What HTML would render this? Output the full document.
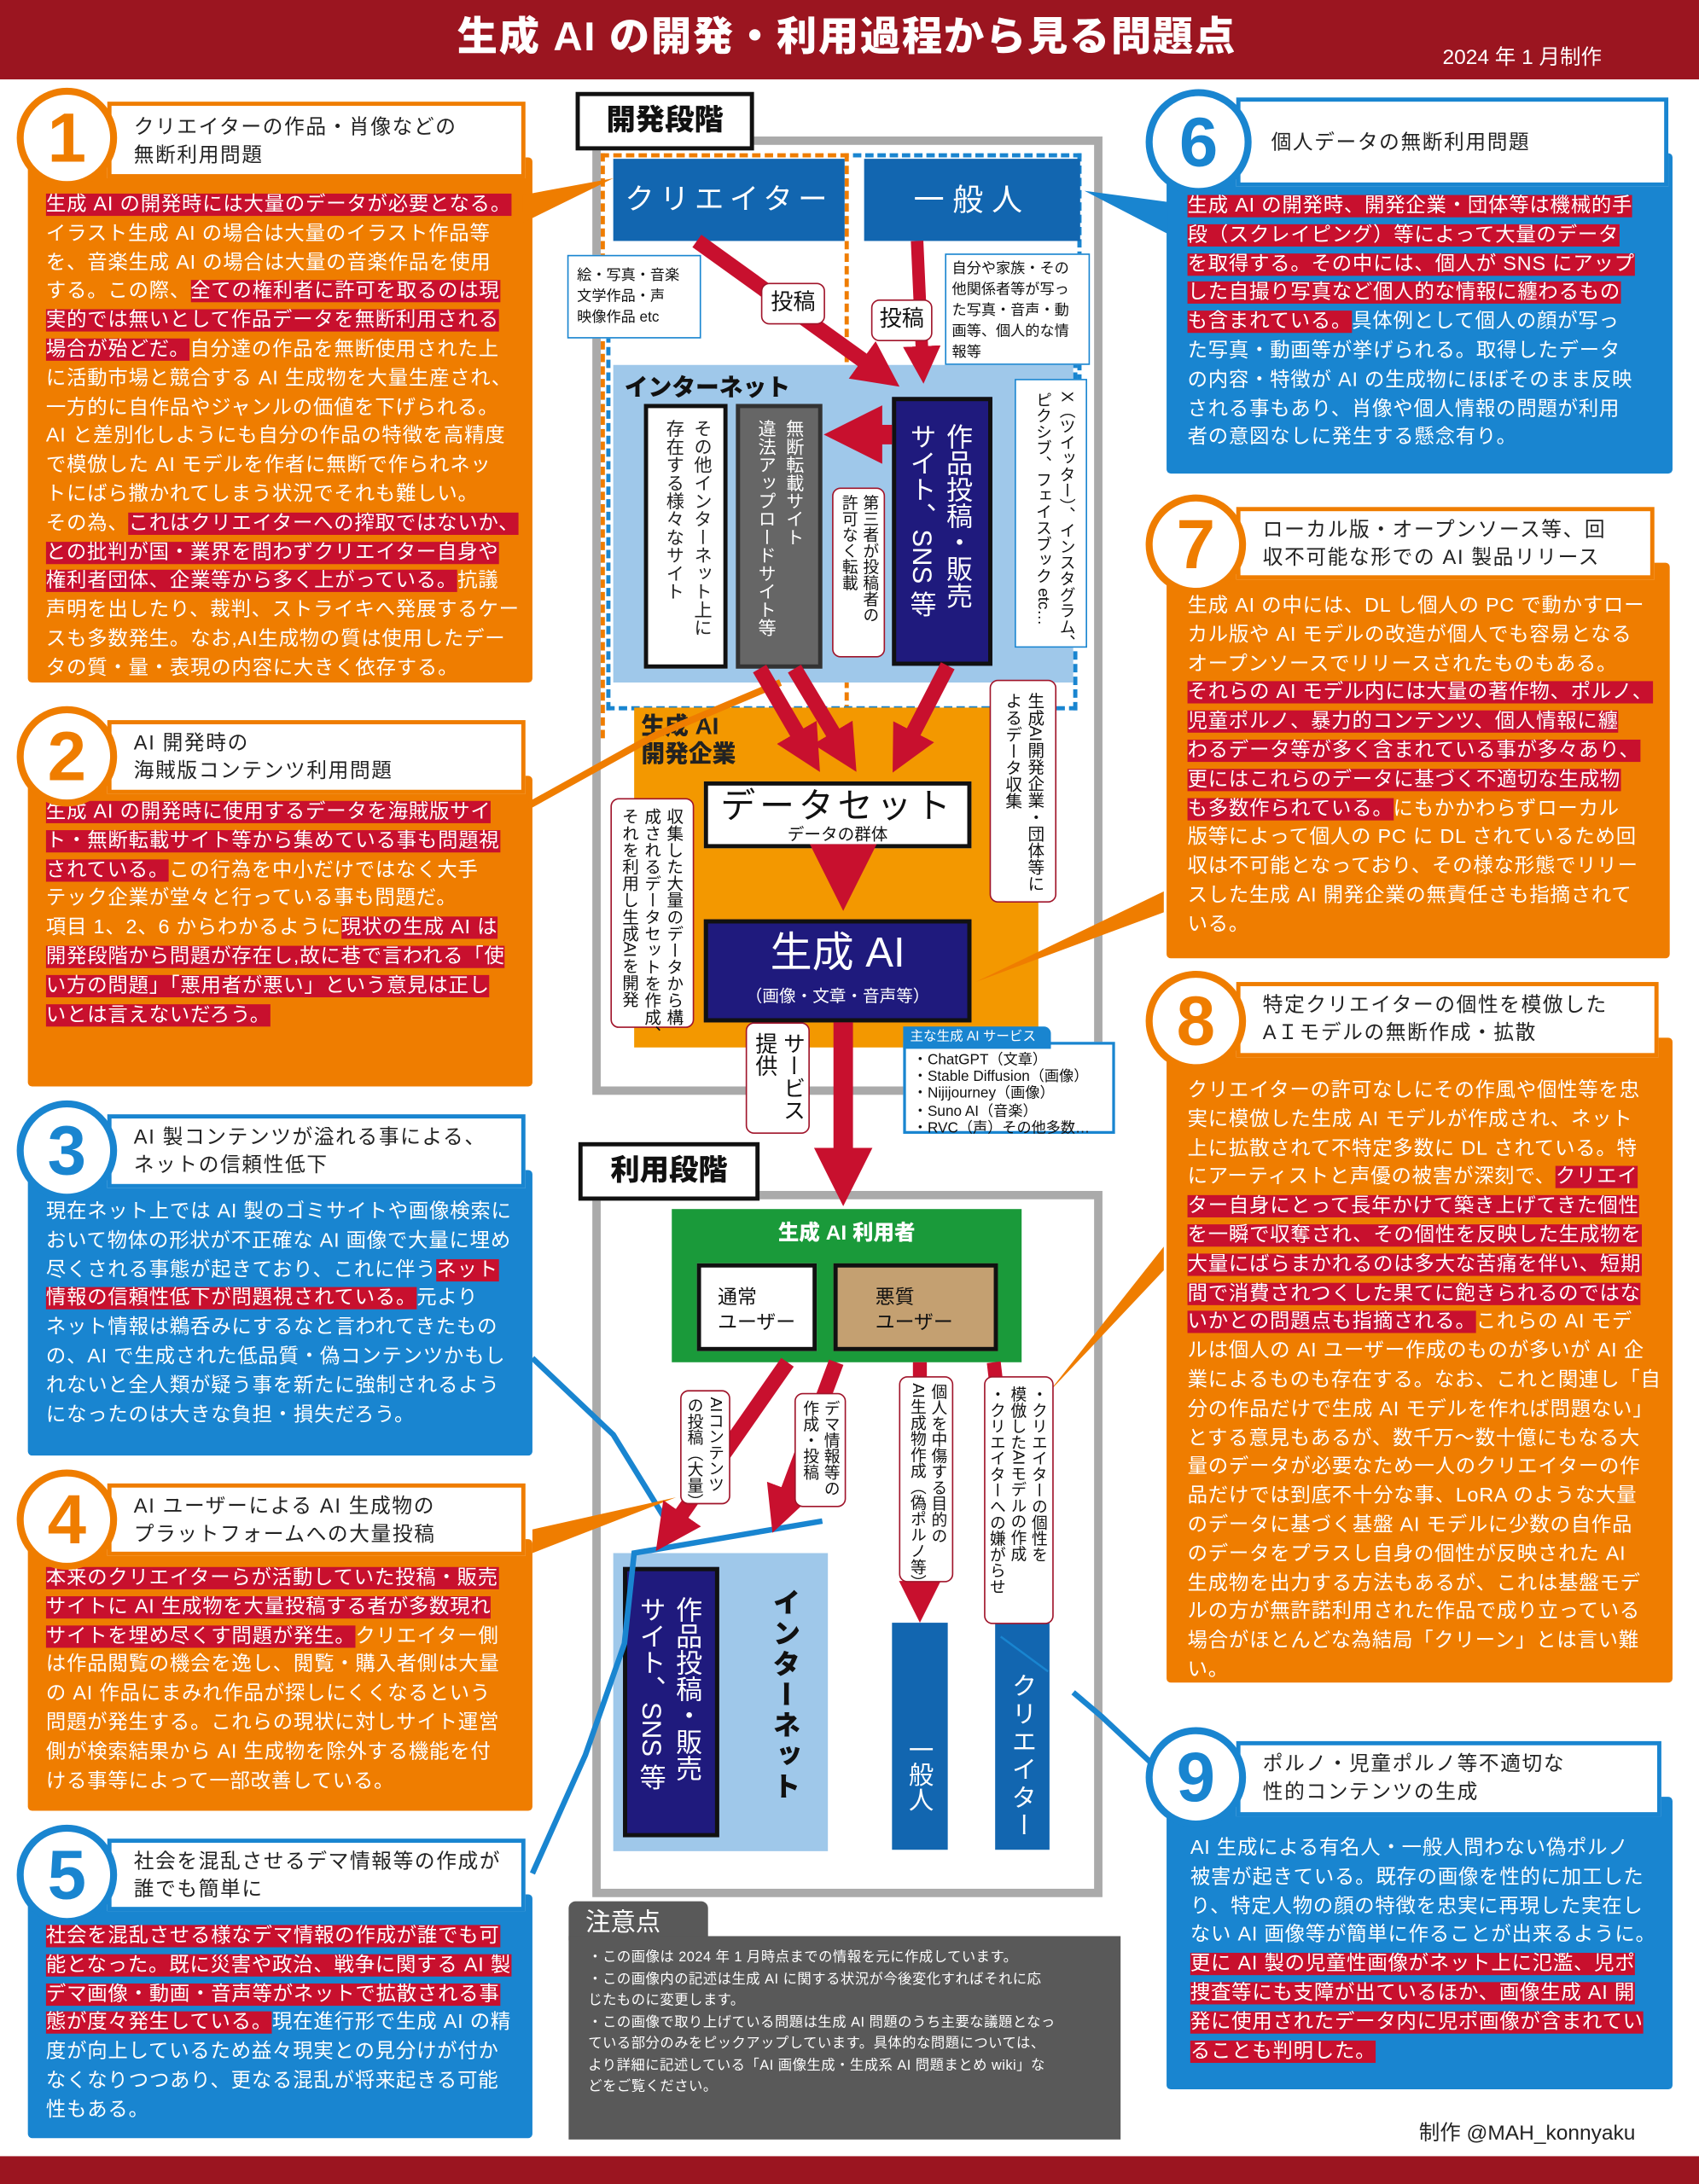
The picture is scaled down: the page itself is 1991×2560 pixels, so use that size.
<!DOCTYPE html>
<html><head><meta charset="utf-8">
<style>
html,body{margin:0;padding:0;width:1991px;height:2560px;overflow:hidden;background:#fff}
#w{position:absolute;left:0;top:0;width:1219px;height:1568px;transform:scale(1.6333,1.6327);transform-origin:0 0;font-family:"Liberation Sans","Noto Sans CJK JP",sans-serif}
.a{position:absolute;box-sizing:border-box}
.circ{position:absolute;width:72px;height:72px;border-radius:50%;background:#fff;box-sizing:border-box;border:5px solid;font:900 50px/62px "Liberation Sans",sans-serif;text-align:center;z-index:3}
.ttl{position:absolute;background:#fff;box-sizing:border-box;border:3px solid;font-size:14.5px;letter-spacing:1px;line-height:20px;padding:4px 0 0 16px;white-space:nowrap;z-index:2}
.ttl.oc,.ttl.bc{color:#222}
.bd{position:absolute;box-sizing:border-box;color:#fff;font-size:14.3px;letter-spacing:0.5px;line-height:20.8px;white-space:nowrap;padding:12px 0 0 13px;border-radius:3px}
.o{background:#ef7d00}.b{background:#1985d0}
.oc{border-color:#ef7d00;color:#ef7d00}.bc{border-color:#1985d0;color:#1985d0}
.h{background:#c8102e}
.v{writing-mode:vertical-rl;white-space:nowrap}
.note{position:absolute;background:#fff;border:1.5px solid #a0142a;border-radius:6px;box-sizing:border-box;font-size:11px;line-height:14px;color:#111;padding:4px 3px;z-index:4}
.bx{position:absolute;box-sizing:border-box;color:#fff;text-align:center}
</style></head><body><div id="w">

<!-- header -->
<div class="a" style="left:0;top:0;width:1219px;height:57px;background:#9b1520"></div>
<div class="a" style="left:250px;top:8px;width:715px;text-align:center;color:#fff;font-size:29px;font-weight:900;line-height:38px;letter-spacing:1px">生成 AI の開発・利用過程から見る問題点</div>
<div class="a" style="left:1035px;top:30px;color:#fff;font-size:15px">2024 年 1 月制作</div>
<div class="a" style="left:0;top:1548px;width:1219px;height:20px;background:#9b1520"></div>
<div class="a" style="left:1018px;top:1520px;font-size:15px;color:#222">制作 @MAH_konnyaku</div>

<!-- connectors -->
<svg class="a" style="left:0;top:0;z-index:1" width="1219" height="1568">
<polygon points="375,140 375,160 440,128" fill="#ef7d00"/>
<polygon points="838,145 838,168 778,137" fill="#1985d0"/>
<polyline points="380,578 470,528 560,490" fill="none" stroke="#ef7d00" stroke-width="5"/>
<polygon points="835,640 835,655 700,705" fill="#ef7d00"/>
<polyline points="382,975 440,1030 480,1095" fill="none" stroke="#1985d0" stroke-width="4"/>
<polygon points="382,1098 382,1115 485,1075" fill="#ef7d00"/>
<polyline points="382,1345 420,1260 448,1180 455,1115 590,1092" fill="none" stroke="#1985d0" stroke-width="4"/>
<polygon points="835,895 835,912 752,1000" fill="#ef7d00"/>
<polyline points="836,1275 790,1232 770,1215" fill="none" stroke="#1985d0" stroke-width="4"/>
<line x1="752" y1="1200" x2="718" y2="1175" stroke="#1985d0" stroke-width="1.5"/>
</svg>

<!-- Panel 1 -->
<div class="bd o" style="left:20px;top:113px;width:362px;height:377px;padding-top:24px"><span class="h">生成 AI の開発時には大量のデータが必要となる。</span><br>イラスト生成 AI の場合は大量のイラスト作品等<br>を、音楽生成 AI の場合は大量の音楽作品を使用<br>する。この際、<span class="h">全ての権利者に許可を取るのは現</span><br><span class="h">実的では無いとして作品データを無断利用される</span><br><span class="h">場合が殆どだ。</span>自分達の作品を無断使用された上<br>に活動市場と競合する AI 生成物を大量生産され、<br>一方的に自作品やジャンルの価値を下げられる。<br>AI と差別化しようにも自分の作品の特徴を高精度<br>で模倣した AI モデルを作者に無断で作られネッ<br>トにばら撒かれてしまう状況でそれも難しい。<br>その為、<span class="h">これはクリエイターへの搾取ではないか、</span><br><span class="h">との批判が国・業界を問わずクリエイター自身や</span><br><span class="h">権利者団体、企業等から多く上がっている。</span>抗議<br>声明を出したり、裁判、ストライキへ発展するケー<br>スも多数発生。なお,AI生成物の質は使用したデー<br>タの質・量・表現の内容に大きく依存する。</div>
<div class="ttl oc" style="left:77px;top:73px;width:300px;height:55px;padding-top:6px">クリエイターの作品・肖像などの<br>無断利用問題</div>
<div class="circ oc" style="left:12px;top:63px">1</div>

<!-- Panel 2 -->
<div class="bd o" style="left:20px;top:557px;width:362px;height:223px;padding-top:16px"><span class="h">生成 AI の開発時に使用するデータを海賊版サイ</span><br><span class="h">ト・無断転載サイト等から集めている事も問題視</span><br><span class="h">されている。</span>この行為を中小だけではなく大手<br>テック企業が堂々と行っている事も問題だ。<br>項目 1、2、6 からわかるように<span class="h">現状の生成 AI は</span><br><span class="h">開発段階から問題が存在し,故に巷で言われる「使</span><br><span class="h">い方の問題」「悪用者が悪い」という意見は正し</span><br><span class="h">いとは言えないだろう。</span></div>
<div class="ttl oc" style="left:77px;top:517px;width:300px;height:53px">AI 開発時の<br>海賊版コンテンツ利用問題</div>
<div class="circ oc" style="left:12px;top:507px">2</div>

<!-- Panel 3 -->
<div class="bd b" style="left:20px;top:840px;width:362px;height:205px;padding-top:20px">現在ネット上では AI 製のゴミサイトや画像検索に<br>おいて物体の形状が不正確な AI 画像で大量に埋め<br>尽くされる事態が起きており、これに伴う<span class="h">ネット</span><br><span class="h">情報の信頼性低下が問題視されている。</span>元より<br>ネット情報は鵜呑みにするなと言われてきたもの<br>の、AI で生成された低品質・偽コンテンツかもし<br>れないと全人類が疑う事を新たに強制されるよう<br>になったのは大きな負担・損失だろう。</div>
<div class="ttl bc" style="left:77px;top:800px;width:300px;height:53px">AI 製コンテンツが溢れる事による、<br>ネットの信頼性低下</div>
<div class="circ bc" style="left:12px;top:790px">3</div>

<!-- Panel 4 -->
<div class="bd o" style="left:20px;top:1105px;width:362px;height:195px;padding-top:18px"><span class="h">本来のクリエイターらが活動していた投稿・販売</span><br><span class="h">サイトに AI 生成物を大量投稿する者が多数現れ</span><br><span class="h">サイトを埋め尽くす問題が発生。</span>クリエイター側<br>は作品閲覧の機会を逸し、閲覧・購入者側は大量<br>の AI 作品にまみれ作品が探しにくくなるという<br>問題が発生する。これらの現状に対しサイト運営<br>側が検索結果から AI 生成物を除外する機能を付<br>ける事等によって一部改善している。</div>
<div class="ttl oc" style="left:77px;top:1065px;width:300px;height:52px">AI ユーザーによる AI 生成物の<br>プラットフォームへの大量投稿</div>
<div class="circ oc" style="left:12px;top:1055px">4</div>

<!-- Panel 5 -->
<div class="bd b" style="left:20px;top:1360px;width:362px;height:175px;padding-top:20px"><span class="h">社会を混乱させる様なデマ情報の作成が誰でも可</span><br><span class="h">能となった。既に災害や政治、戦争に関する AI 製</span><br><span class="h">デマ画像・動画・音声等がネットで拡散される事</span><br><span class="h">態が度々発生している。</span>現在進行形で生成 AI の精<br>度が向上しているため益々現実との見分けが付か<br>なくなりつつあり、更なる混乱が将来起きる可能<br>性もある。</div>
<div class="ttl bc" style="left:77px;top:1320px;width:300px;height:52px">社会を混乱させるデマ情報等の作成が<br>誰でも簡単に</div>
<div class="circ bc" style="left:12px;top:1310px">5</div>

<!-- Panel 6 -->
<div class="bd b" style="left:837px;top:110px;width:363px;height:230px;padding-top:28px;padding-left:15px"><span class="h">生成 AI の開発時、開発企業・団体等は機械的手</span><br><span class="h">段（スクレイピング）等によって大量のデータ</span><br><span class="h">を取得する。その中には、個人が SNS にアップ</span><br><span class="h">した自撮り写真など個人的な情報に纏わるもの</span><br><span class="h">も含まれている。</span>具体例として個人の顔が写っ<br>た写真・動画等が挙げられる。取得したデータ<br>の内容・特徴が AI の生成物にほぼそのまま反映<br>される事もあり、肖像や個人情報の問題が利用<br>者の意図なしに発生する懸念有り。</div>
<div class="ttl bc" style="left:887px;top:70px;width:310px;height:64px;padding-left:22px;padding-top:20px">個人データの無断利用問題</div>
<div class="circ bc" style="left:822px;top:64px;width:76px;height:76px;line-height:66px">6</div>

<!-- Panel 7 -->
<div class="bd o" style="left:837px;top:404px;width:361px;height:284px;padding-top:21px;padding-left:15px">生成 AI の中には、DL し個人の PC で動かすロー<br>カル版や AI モデルの改造が個人でも容易となる<br>オープンソースでリリースされたものもある。<br><span class="h">それらの AI モデル内には大量の著作物、ポルノ、</span><br><span class="h">児童ポルノ、暴力的コンテンツ、個人情報に纏</span><br><span class="h">わるデータ等が多く含まれている事が多々あり、</span><br><span class="h">更にはこれらのデータに基づく不適切な生成物</span><br><span class="h">も多数作られている。</span>にもかかわらずローカル<br>版等によって個人の PC に DL されているため回<br>収は不可能となっており、その様な形態でリリー<br>スした生成 AI 開発企業の無責任さも指摘されて<br>いる。</div>
<div class="ttl oc" style="left:887px;top:364px;width:300px;height:52px">ローカル版・オープンソース等、回<br>収不可能な形での AI 製品リリース</div>
<div class="circ oc" style="left:822px;top:355px">7</div>

<!-- Panel 8 -->
<div class="bd o" style="left:837px;top:745px;width:363px;height:463px;padding-top:28px;padding-left:15px">クリエイターの許可なしにその作風や個性等を忠<br>実に模倣した生成 AI モデルが作成され、ネット<br>上に拡散されて不特定多数に DL されている。特<br>にアーティストと声優の被害が深刻で、<span class="h">クリエイ</span><br><span class="h">ター自身にとって長年かけて築き上げてきた個性</span><br><span class="h">を一瞬で収奪され、その個性を反映した生成物を</span><br><span class="h">大量にばらまかれるのは多大な苦痛を伴い、短期</span><br><span class="h">間で消費されつくした果てに飽きられるのではな</span><br><span class="h">いかとの問題点も指摘される。</span>これらの AI モデ<br>ルは個人の AI ユーザー作成のものが多いが AI 企<br>業によるものも存在する。なお、これと関連し「自<br>分の作品だけで生成 AI モデルを作れば問題ない」<br>とする意見もあるが、数千万〜数十億にもなる大<br>量のデータが必要なため一人のクリエイターの作<br>品だけでは到底不十分な事、LoRA のような大量<br>のデータに基づく基盤 AI モデルに少数の自作品<br>のデータをプラスし自身の個性が反映された AI<br>生成物を出力する方法もあるが、これは基盤モデ<br>ルの方が無許諾利用された作品で成り立っている<br>場合がほとんどな為結局「クリーン」とは言い難<br>い。</div>
<div class="ttl oc" style="left:887px;top:705px;width:303px;height:54px">特定クリエイターの個性を模倣した<br>AＩモデルの無断作成・拡散</div>
<div class="circ oc" style="left:822px;top:697px">8</div>

<!-- Panel 9 -->
<div class="bd b" style="left:837px;top:1290px;width:363px;height:210px;padding-top:27px;padding-left:17px">AI 生成による有名人・一般人問わない偽ポルノ<br>被害が起きている。既存の画像を性的に加工した<br>り、特定人物の顔の特徴を忠実に再現した実在し<br>ない AI 画像等が簡単に作ることが出来るように。<br><span class="h">更に AI 製の児童性画像がネット上に氾濫、児ポ</span><br><span class="h">捜査等にも支障が出ているほか、画像生成 AI 開</span><br><span class="h">発に使用されたデータ内に児ポ画像が含まれてい</span><br><span class="h">ることも判明した。</span></div>
<div class="ttl bc" style="left:887px;top:1250px;width:305px;height:54px">ポルノ・児童ポルノ等不適切な<br>性的コンテンツの生成</div>
<div class="circ bc" style="left:822px;top:1240px">9</div>

<!-- ===== Center diagram: development ===== -->
<div class="a" style="left:425px;top:98px;width:366px;height:688px;border:6px solid #aaa"></div>
<div class="a" style="left:413px;top:66px;width:128px;height:42px;background:#fff;border:3px solid #111;font-size:21px;font-weight:900;line-height:36px;text-align:center;color:#111;z-index:2">開発段階</div>
<div class="a" style="left:431px;top:110px;width:178px;height:420px;border:3px dashed #ef7d00;border-bottom:none"></div>
<div class="a" style="left:612px;top:110px;width:164px;height:200px;border:3px dashed #1985d0;border-left:none;border-bottom:none"></div>
<div class="a" style="left:435px;top:240px;width:338px;height:270px;border:3px dashed #1985d0;border-top:none"></div>

<div class="bx" style="left:440px;top:114px;width:166px;height:59px;background:#1266b0;font-size:21px;line-height:59px;letter-spacing:4px">クリエイター</div>
<div class="bx" style="left:620px;top:114px;width:155px;height:59px;background:#1266b0;font-size:22px;line-height:59px;letter-spacing:6px">一般人</div>

<!-- internet area -->
<div class="a" style="left:440px;top:262px;width:330px;height:228px;background:#9fc8ea"></div>
<div class="a" style="left:448px;top:264px;font-size:17px;font-weight:900;color:#111">インターネット</div>
<div class="a v" style="left:462px;top:290px;width:60px;height:190px;background:#fff;border:3px solid #111;font-size:13px;line-height:20px;padding:8px 6px;color:#222">その他インターネット上に<br>存在する様々なサイト</div>
<div class="a v" style="left:528px;top:290px;width:62px;height:190px;background:#666;border:3px solid #333;font-size:13px;line-height:20px;padding:8px 8px;color:#fff">無断転載サイト<br>違法アップロードサイト等</div>
<div class="a v" style="left:640px;top:285px;width:72px;height:193px;background:#1f1a7d;border:3px solid #111;font-size:19px;line-height:26px;padding:16px 10px;color:#fff">作品投稿・販売<br>サイト、SNS 等</div>
<div class="note v" style="left:597px;top:350px;width:38px;height:122px;font-size:11.5px;line-height:15px">第三者が投稿者の<br>許可なく転載</div>
<div class="note v" style="left:728px;top:272px;width:52px;height:193px;border-color:#1985d0;border-radius:0;font-size:11.5px;line-height:17px;padding:8px 6px">X（ツイッター）、インスタグラム、<br>ピクシブ、フェイスブック etc…</div>

<!-- company -->
<div class="a" style="left:455px;top:508px;width:290px;height:244px;background:#f39800"></div>
<div class="a" style="left:460px;top:512px;font-size:17px;font-weight:900;line-height:20px;color:#222">生成 AI<br>開発企業</div>
<div class="a" style="left:505px;top:561px;width:192px;height:48px;background:#fff;border:3px solid #111;text-align:center;color:#111;z-index:3"><div style="font-size:25px;line-height:28px;letter-spacing:3px;margin-top:1px">データセット</div><div style="font-size:12px;line-height:13px">データの群体</div></div>
<div class="a" style="left:505px;top:660px;width:192px;height:74px;background:#1f1a7d;border:3px solid #111;text-align:center;color:#fff;z-index:3"><div style="font-size:30px;line-height:40px;margin-top:2px">生成 AI</div><div style="font-size:12px;line-height:20px">（画像・文章・音声等）</div></div>
<div class="note v" style="left:710px;top:488px;width:48px;height:160px;font-size:12px;line-height:16px;padding:8px 6px">生成AI開発企業・団体等に<br>よるデータ収集</div>
<div class="note v" style="left:438px;top:573px;width:60px;height:165px;font-size:12px;line-height:16px;padding:6px 5px">収集した大量のデータから構<br>成されるデータセットを作成、<br>それを利用し生成AIを開発</div>

<!-- notes top -->
<div class="note" style="left:407px;top:183px;width:96px;height:60px;border-color:#1985d0;border-radius:0;font-size:10.5px;line-height:15px;padding:7px 6px;white-space:nowrap">絵・写真・音楽<br>文学作品・声<br>映像作品 etc</div>
<div class="note" style="left:678px;top:182px;width:104px;height:80px;border-color:#1985d0;border-radius:0;font-size:10.5px;line-height:15px;padding:3px 4px;white-space:nowrap">自分や家族・その<br>他関係者等が写っ<br>た写真・音声・動<br>画等、個人的な情<br>報等</div>
<div class="note" style="left:546px;top:203px;width:46px;height:30px;font-size:16px;line-height:20px;text-align:center">投稿</div>
<div class="note" style="left:625px;top:215px;width:44px;height:30px;font-size:16px;line-height:20px;text-align:center">投稿</div>

<!-- services -->
<div class="note v" style="left:535px;top:734px;width:46px;height:80px;font-size:16px;line-height:20px;padding:6px 3px">サービス<br>提供</div>
<div class="a" style="left:648px;top:748px;width:152px;height:66px;background:#fff;border:2px solid #1985d0;font-size:10.5px;line-height:12.2px;padding:5px 0 0 5px;color:#111;white-space:nowrap;z-index:4">・ChatGPT（文章）<br>・Stable Diffusion（画像）<br>・Nijijourney（画像）<br>・Suno AI（音楽）<br>・RVC（声）その他多数…</div>
<div class="a" style="left:648px;top:737px;width:106px;height:16px;background:#1985d0;color:#fff;font-size:9.5px;line-height:16px;padding-left:5px;border-radius:0 5px 0 0;z-index:5">主な生成 AI サービス</div>

<!-- ===== usage ===== -->
<div class="a" style="left:425px;top:855px;width:366px;height:507px;border:6px solid #aaa"></div>
<div class="a" style="left:415px;top:820px;width:130px;height:42px;background:#fff;border:3px solid #111;font-size:21px;font-weight:900;line-height:36px;text-align:center;color:#111;z-index:2">利用段階</div>
<div class="a" style="left:482px;top:868px;width:251px;height:110px;background:#1a9a3a"></div>
<div class="a" style="left:482px;top:874px;width:251px;text-align:center;color:#fff;font-size:15px;font-weight:900">生成 AI 利用者</div>
<div class="a" style="left:500px;top:907px;width:86px;height:63px;background:#fff;border:3px solid #111;font-size:14px;line-height:18px;padding:12px 0 0 12px;color:#111">通常<br>ユーザー</div>
<div class="a" style="left:598px;top:907px;width:118px;height:63px;background:#c4a071;border:3px solid #111;font-size:14px;line-height:18px;padding:12px 0 0 27px;color:#111">悪質<br>ユーザー</div>

<div class="a" style="left:440px;top:1115px;width:154px;height:214px;background:#9fc8ea"></div>
<div class="a v" style="left:447px;top:1125px;width:69px;height:194px;background:#1f1a7d;border:3px solid #111;font-size:19px;line-height:26px;padding:18px 8px;color:#fff">作品投稿・販売<br>サイト、SNS 等</div>
<div class="a v" style="left:548px;top:1140px;font-size:20px;font-weight:900;color:#111;letter-spacing:2px">インターネット</div>
<div class="bx v" style="left:640px;top:1165px;width:40px;height:163px;background:#1266b0;font-size:18px;line-height:40px;padding-top:55px">一般人</div>
<div class="bx v" style="left:714px;top:1165px;width:39px;height:163px;background:#1266b0;font-size:18px;line-height:39px;padding-top:28px;letter-spacing:2px">クリエイター</div>

<!-- red arrows -->
<svg class="a" style="left:0;top:0;z-index:3" width="1219" height="1568">
<defs><marker id="m" markerWidth="3" markerHeight="3" refX="1.5" refY="1.5" orient="auto" markerUnits="strokeWidth"><path d="M0,0 L3,1.5 L0,3 z" fill="#c8102e"/></marker></defs>
<g stroke="#c8102e" fill="none" marker-end="url(#m)">
<line x1="500" y1="173" x2="632" y2="268" stroke-width="11"/>
<line x1="658" y1="173" x2="662" y2="262" stroke-width="9"/>
<line x1="640" y1="312" x2="612" y2="312" stroke-width="14"/>
<line x1="545" y1="480" x2="580" y2="540" stroke-width="11"/>
<line x1="570" y1="480" x2="606" y2="540" stroke-width="11"/>
<line x1="680" y1="478" x2="648" y2="540" stroke-width="11"/>
<line x1="605" y1="609" x2="605" y2="630" stroke-width="16"/>
<line x1="605" y1="734" x2="605" y2="845" stroke-width="14"/>
<line x1="565" y1="978" x2="480" y2="1100" stroke-width="11"/>
<line x1="600" y1="978" x2="560" y2="1085" stroke-width="11"/>
<line x1="660" y1="978" x2="660" y2="1150" stroke-width="10"/>
<line x1="713" y1="978" x2="733" y2="1150" stroke-width="10"/>
</g>
</svg>

<div class="note v" style="left:488px;top:998px;width:36px;height:82px;font-size:11.5px;line-height:15px">AIコンテンツ<br>の投稿（大量）</div>
<div class="note v" style="left:570px;top:1000px;width:37px;height:82px;font-size:11.5px;line-height:15px">デマ情報等の<br>作成・投稿</div>
<div class="note v" style="left:645px;top:988px;width:39px;height:148px;font-size:11.5px;line-height:15px">個人を中傷する目的の<br>AI生成物作成（偽ポルノ等）</div>
<div class="note v" style="left:706px;top:988px;width:50px;height:178px;font-size:11.5px;line-height:15px;padding:6px 3px">・クリエイターの個性を<br>模倣したAIモデルの作成<br>・クリエイターへの嫌がらせ</div>

<!-- caution -->
<div class="a" style="left:408px;top:1365px;width:100px;height:28px;background:#595959;border-radius:5px 5px 0 0;color:#fff;font-size:18px;line-height:30px;padding-left:12px">注意点</div>
<div class="a" style="left:408px;top:1390px;width:396px;height:146px;background:#595959;color:#fff;font-size:10px;line-height:15.5px;padding:8px 0 0 14px;white-space:nowrap;letter-spacing:0.3px">・この画像は 2024 年 1 月時点までの情報を元に作成しています。<br>・この画像内の記述は生成 AI に関する状況が今後変化すればそれに応<br>じたものに変更します。<br>・この画像で取り上げている問題は生成 AI 問題のうち主要な議題となっ<br>ている部分のみをピックアップしています。具体的な問題については、<br>より詳細に記述している「AI 画像生成・生成系 AI 問題まとめ wiki」な<br>どをご覧ください。</div>

</div></body></html>
